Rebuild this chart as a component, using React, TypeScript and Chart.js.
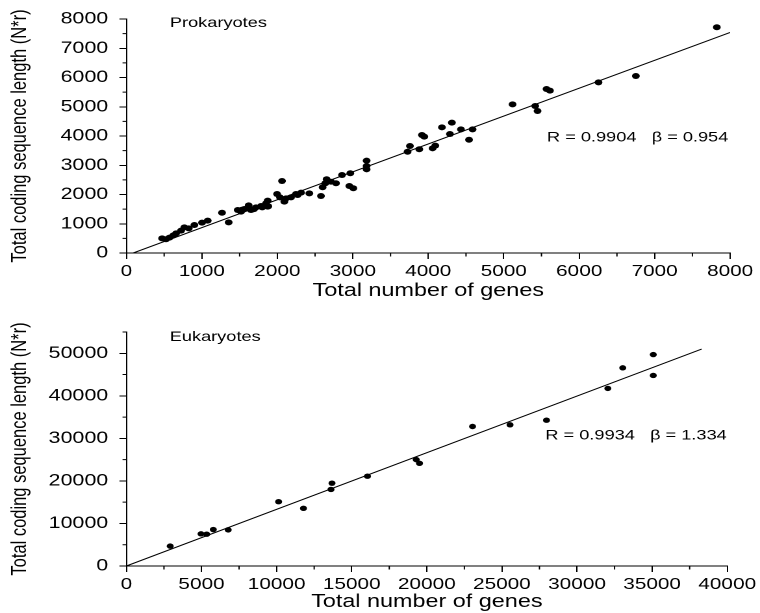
import React, { useEffect, useRef } from 'react';
import { Chart, registerables } from 'chart.js';

Chart.register(...registerables);

// ---------- Prokaryotes data (total number of genes vs total coding length) ----------
const progGenes = [
  473, 525, 570, 622, 658, 724, 768, 826, 901, 1002, 1077, 1267, 1355, 1475, 1519, 1530, 1563, 1620,
  1651, 1690, 1717, 1784, 1800, 1850, 1872, 1872, 1880, 1996, 2035, 2062, 2093, 2115, 2181, 2247,
  2269, 2314, 2424, 2578, 2600, 2636, 2653, 2711, 2777, 2857, 2954, 2967, 3007, 3183, 3183, 3183,
  3726, 3757, 3881, 3916, 3947, 4057, 4093, 4181, 4287, 4313, 4433, 4540, 4587, 5117, 5417, 5448,
  5567, 5612, 6256, 6751, 7824,
];
const progLength = [
  502, 468, 524, 604, 672, 764, 878, 843, 957, 1037, 1106, 1378, 1048, 1470, 1413, 1480, 1504, 1630,
  1470, 1500, 1561, 1607, 1560, 1698, 1789, 1584, 1600, 2017, 1903, 2462, 1755, 1869, 1903, 2017,
  1983, 2062, 2040, 1949, 2246, 2383, 2520, 2438, 2383, 2667, 2291, 2725, 2212, 3156, 2974, 2861,
  3463, 3658, 3545, 4034, 3977, 3579, 3669, 4297, 4068, 4456, 4228, 3870, 4228, 5083, 5026, 4855,
  5607, 5550, 5835, 6051, 7716,
];
const progFitGenes = [90, 8000];
const progFitLength = [0, 7540];

// ---------- Eukaryotes data ----------
const eukGenes = [
  2914, 4967, 5342, 5784, 6777, 10132, 11788, 13620, 13687, 16049, 19294, 19514, 23046, 25541,
  27969, 32053, 33046, 35077, 35077,
];
const eukLength = [
  4673, 7554, 7477, 8567, 8489, 15109, 13551, 17991, 19470, 21106, 25000, 24143, 32788, 33178,
  34268, 41745, 46573, 49688, 44782,
];
const eukFitGenes = [0, 38300];
const eukFitLength = [0, 51000];

// ---------- Text ----------
const xTitle = 'Total number of genes';
const yTitle = 'Total coding sequence length (N*r)';
const progLabel = 'Prokaryotes';
const progStats = 'R = 0.9904   \u03B2 = 0.954';
const eukLabel = 'Eukaryotes';
const eukStats = 'R = 0.9934   \u03B2 = 1.334';

const FONT = "Arial, 'Liberation Sans', Helvetica, sans-serif";
const DRAW_W = 585; // internal drawing width, stretched to 760 css px

interface PanelProps {
  xs: number[];
  ys: number[];
  fitX: number[];
  fitY: number[];
  xMax: number;
  xStep: number;
  yMax: number;
  yStep: number;
  texts: { text: string; x: number; y: number }[];
  height: number;
  top: number;
  padTop: number;
  axisH: number;
  titleBottomPad: number;
  radius: number;
}

function majorTicks(max: number, step: number) {
  const out: { value: number }[] = [];
  for (let v = 0; v <= max + 1e-9; v += step) out.push({ value: v });
  return out;
}

function Panel(p: PanelProps) {
  const ref = useRef<HTMLCanvasElement | null>(null);
  useEffect(() => {
    const canvas = ref.current;
    if (!canvas) return;
    const extras = {
      id: 'extras',
      afterDraw(chart: any) {
        const { ctx } = chart;
        const x = chart.scales.x;
        const y = chart.scales.y;
        ctx.save();
        ctx.strokeStyle = '#000';
        ctx.lineWidth = 1;
        ctx.beginPath();
        for (let v = p.xStep / 2; v <= x.max; v += p.xStep) {
          const px = x.getPixelForValue(v);
          ctx.moveTo(px, x.top);
          ctx.lineTo(px, x.top + 3.5);
        }
        for (let v = p.yStep / 2; v <= y.max; v += p.yStep) {
          const py = y.getPixelForValue(v);
          ctx.moveTo(y.right, py);
          ctx.lineTo(y.right - 3, py);
        }
        ctx.stroke();
        ctx.fillStyle = '#000';
        ctx.font = `14px ${FONT}`;
        ctx.textBaseline = 'middle';
        ctx.textAlign = 'left';
        for (const t of p.texts) {
          ctx.fillText(t.text, x.getPixelForValue(t.x), y.getPixelForValue(t.y));
        }
        ctx.restore();
      },
    };
    const chart = new Chart(canvas, {
      type: 'scatter',
      data: {
        datasets: [
          {
            data: p.xs.map((v, i) => ({ x: v, y: p.ys[i] })),
            backgroundColor: '#000',
            borderColor: '#000',
            pointRadius: p.radius,
            pointHoverRadius: p.radius,
            borderWidth: 0,
          },
          {
            data: p.fitX.map((v, i) => ({ x: v, y: p.fitY[i] })),
            showLine: true,
            borderColor: '#000',
            borderWidth: 1,
            pointRadius: 0,
            fill: false,
          } as any,
        ],
      },
      options: {
        responsive: false,
        animation: false,
        devicePixelRatio: 2,
        events: [],
        layout: { padding: { top: p.padTop, right: 23, left: 0, bottom: 0 } },
        plugins: { legend: { display: false }, tooltip: { enabled: false } },
        scales: {
          x: {
            type: 'linear',
            min: 0,
            max: p.xMax,
            afterFit: (s: any) => {
              s.height = p.axisH;
            },
            afterBuildTicks: (s: any) => {
              s.ticks = majorTicks(p.xMax, p.xStep);
            },
            ticks: {
              autoSkip: false,
              maxRotation: 0,
              padding: 3,
              color: '#000',
              font: { family: FONT, size: 16 },
              callback: (v: any) => String(v),
            },
            grid: { drawOnChartArea: false, drawTicks: true, tickLength: 6, color: '#000', lineWidth: 1 },
            border: { display: true, color: '#000', width: 1 },
            title: {
              display: true,
              text: xTitle,
              color: '#000',
              font: { family: FONT, size: 18 },
              padding: { top: 0, bottom: p.titleBottomPad },
            },
          },
          y: {
            type: 'linear',
            min: 0,
            max: p.yMax,
            afterFit: (s: any) => {
              s.width = 97.3;
            },
            afterBuildTicks: (s: any) => {
              s.ticks = majorTicks(p.yMax, p.yStep);
            },
            ticks: {
              autoSkip: false,
              padding: 8.6,
              color: '#000',
              font: { family: FONT, size: 16.5 },
              callback: (v: any) => String(v),
            },
            grid: { drawOnChartArea: false, drawTicks: true, tickLength: 5.4, color: '#000', lineWidth: 1 },
            border: { display: true, color: '#000', width: 1 },
            title: {
              display: true,
              text: yTitle,
              color: '#000',
              font: { family: FONT, size: 16.5 },
              padding: { top: 5.5, bottom: 0 },
            },
          },
        },
      },
      plugins: [extras],
    } as any);
    return () => chart.destroy();
  }, []);
  return (
    <canvas
      ref={ref}
      width={DRAW_W}
      height={p.height}
      style={{ position: 'absolute', left: 0, top: p.top, width: 760, height: p.height, display: 'block' }}
    />
  );
}

export default function App() {
  return (
    <div style={{ position: 'absolute', left: 0, top: 0, width: 760, height: 613, background: '#fff' }}>
      <Panel
        xs={progGenes}
        ys={progLength}
        fitX={progFitGenes}
        fitY={progFitLength}
        xMax={8000}
        xStep={1000}
        yMax={8000}
        yStep={1000}
        texts={[
          { text: progLabel, x: 576, y: 7863 },
          { text: progStats, x: 5573, y: 3942 },
        ]}
        height={306}
        top={0}
        padTop={19}
        axisH={53}
        titleBottomPad={4}
        radius={3}
      />
      <Panel
        xs={eukGenes}
        ys={eukLength}
        fitX={eukFitGenes}
        fitY={eukFitLength}
        xMax={40000}
        xStep={5000}
        yMax={55000}
        yStep={10000}
        texts={[
          { text: eukLabel, x: 2881, y: 53785 },
          { text: eukStats, x: 27894, y: 30607 },
        ]}
        height={307}
        top={306}
        padTop={26}
        axisH={47}
        titleBottomPad={0}
        radius={2.7}
      />
    </div>
  );
}
